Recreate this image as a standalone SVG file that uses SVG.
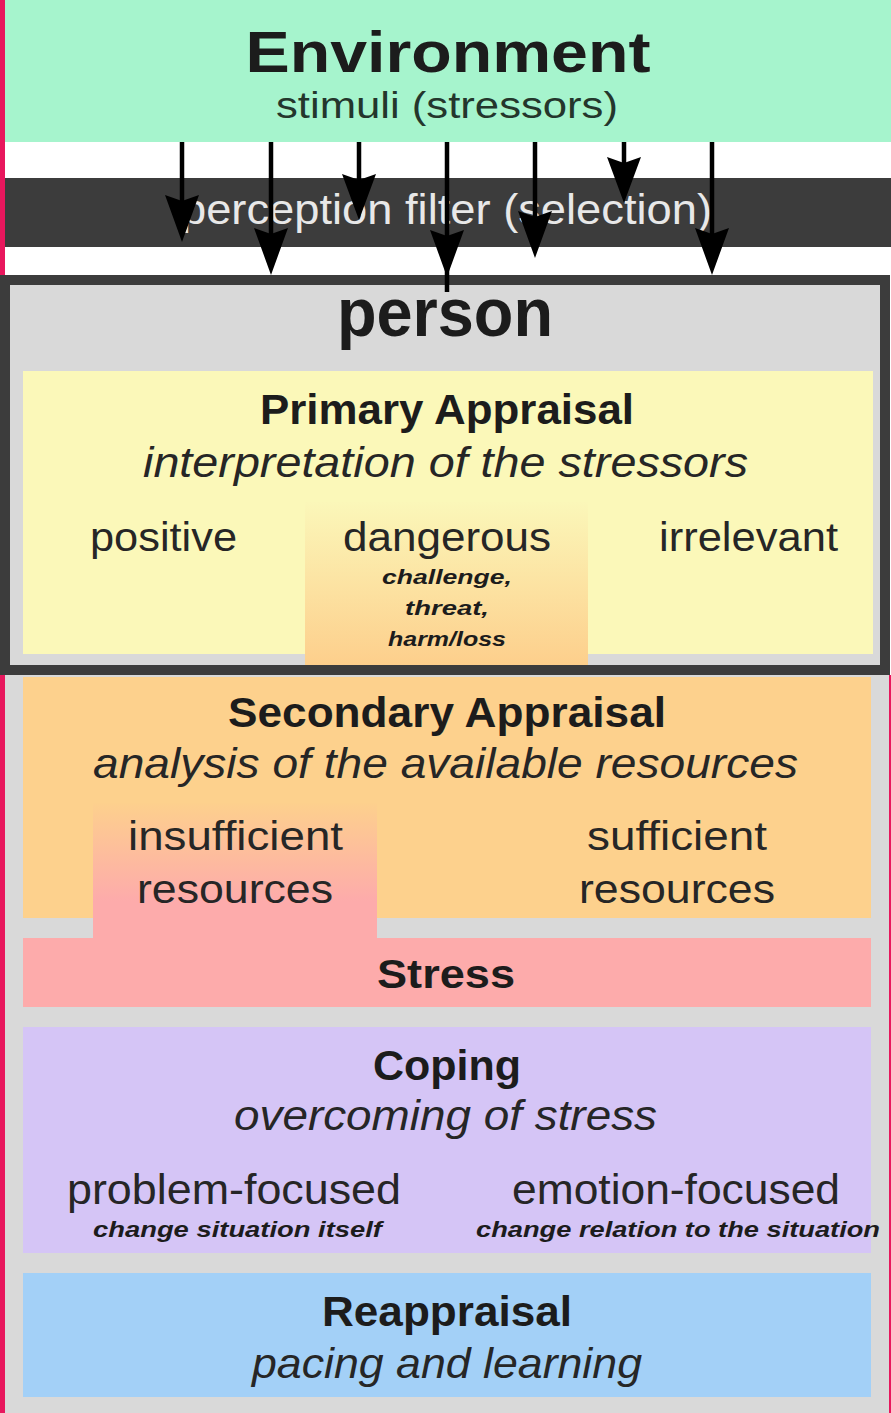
<svg xmlns="http://www.w3.org/2000/svg" width="891" height="1413" viewBox="0 0 891 1413">
<style>
text{font-family:"Liberation Sans",Arial,sans-serif;fill:#1c1c1c;text-anchor:middle}
.b{font-weight:bold}
.i{font-style:italic}
.bi{font-weight:bold;font-style:italic}
.r{fill:#262626}
.conn line{stroke:#000;stroke-width:4.5}
.conn path{fill:#000}
</style>
<defs>
<linearGradient id="gDanger" x1="0" y1="0" x2="0" y2="1">
<stop offset="0" stop-color="#fbf7b9"/>
<stop offset="1" stop-color="#fdcf8c"/>
</linearGradient>
<linearGradient id="gInsuff" x1="0" y1="0" x2="0" y2="1">
<stop offset="0" stop-color="#fdd08d"/>
<stop offset="0.7" stop-color="#fdabab"/>
<stop offset="1" stop-color="#fdabab"/>
</linearGradient>
</defs>
<rect x="0" y="0" width="891" height="1413" fill="#ffffff"/>
<rect x="0" y="675" width="891" height="738" fill="#d9d9d9"/>
<rect x="0" y="0" width="5" height="1413" fill="#e8175d"/>
<rect x="889" y="675" width="2" height="738" fill="#e8175d"/>

<g id="environment">
<rect x="5" y="0" width="886" height="142" fill="#a6f4cd"/>
<text class="b" x="448" y="72" font-size="58" textLength="405" lengthAdjust="spacingAndGlyphs">Environment</text>
<text x="447" y="118" font-size="36" textLength="342" lengthAdjust="spacingAndGlyphs" style="fill:#24362c">stimuli (stressors)</text>
</g>

<g id="perception-filter">
<rect x="5" y="178" width="886" height="69" fill="#3c3c3c"/>
<text x="446.5" y="224" font-size="42" textLength="531" lengthAdjust="spacingAndGlyphs" style="fill:#e8e8e8">perception filter (selection)</text>
</g>

<g id="person">
<rect x="5" y="280" width="880" height="390" fill="#d9d9d9" stroke="#3c3c3c" stroke-width="10"/>
<text class="b" x="445" y="336" font-size="68" textLength="216" lengthAdjust="spacingAndGlyphs">person</text>
</g>

<g id="primary-appraisal">
<rect x="23" y="371" width="850" height="283" fill="#fbf8b9"/>
<rect x="305" y="502" width="283" height="163" fill="url(#gDanger)"/>
<text class="b" x="447" y="424" font-size="42" textLength="374" lengthAdjust="spacingAndGlyphs">Primary Appraisal</text>
<text class="i r" x="445.5" y="477" font-size="42" textLength="605" lengthAdjust="spacingAndGlyphs">interpretation of the stressors</text>
<text class="r" x="163.5" y="551" font-size="40" textLength="147" lengthAdjust="spacingAndGlyphs">positive</text>
<text class="r" x="447" y="551" font-size="40" textLength="208" lengthAdjust="spacingAndGlyphs">dangerous</text>
<text class="r" x="748.5" y="551" font-size="40" textLength="179" lengthAdjust="spacingAndGlyphs">irrelevant</text>
<text class="bi" x="447" y="584" font-size="21" textLength="130" lengthAdjust="spacingAndGlyphs">challenge,</text>
<text class="bi" x="447" y="615" font-size="21" textLength="84" lengthAdjust="spacingAndGlyphs">threat,</text>
<text class="bi" x="447" y="646" font-size="21" textLength="118" lengthAdjust="spacingAndGlyphs">harm/loss</text>
</g>

<g id="secondary-appraisal">
<rect x="23" y="677" width="848" height="241" fill="#fdd18d"/>
<rect x="93" y="803" width="284" height="140" fill="url(#gInsuff)"/>
<text class="b" x="447" y="727" font-size="42" textLength="438" lengthAdjust="spacingAndGlyphs">Secondary Appraisal</text>
<text class="i r" x="445.5" y="778" font-size="42" textLength="705" lengthAdjust="spacingAndGlyphs">analysis of the available resources</text>
<text class="r" x="235.5" y="850" font-size="40" textLength="215" lengthAdjust="spacingAndGlyphs">insufficient</text>
<text class="r" x="235" y="903" font-size="40" textLength="196" lengthAdjust="spacingAndGlyphs">resources</text>
<text class="r" x="677" y="850" font-size="40" textLength="180" lengthAdjust="spacingAndGlyphs">sufficient</text>
<text class="r" x="677" y="903" font-size="40" textLength="196" lengthAdjust="spacingAndGlyphs">resources</text>
</g>

<g id="stress">
<rect x="23" y="938" width="848" height="69" fill="#fdabab"/>
<text class="b" x="446" y="988" font-size="40" textLength="138" lengthAdjust="spacingAndGlyphs">Stress</text>
</g>

<g id="coping">
<rect x="23" y="1027" width="848" height="226" fill="#d5c5f6"/>
<text class="b" x="447" y="1080" font-size="42" textLength="148" lengthAdjust="spacingAndGlyphs">Coping</text>
<text class="i r" x="445.5" y="1130" font-size="42" textLength="423" lengthAdjust="spacingAndGlyphs">overcoming of stress</text>
<text class="r" x="234" y="1204" font-size="42" textLength="334" lengthAdjust="spacingAndGlyphs">problem-focused</text>
<text class="bi" x="237.5" y="1237" font-size="22" textLength="289" lengthAdjust="spacingAndGlyphs">change situation itself</text>
<text class="r" x="676" y="1204" font-size="42" textLength="328" lengthAdjust="spacingAndGlyphs">emotion-focused</text>
<text class="bi" x="678" y="1237" font-size="22" textLength="404" lengthAdjust="spacingAndGlyphs">change relation to the situation</text>
</g>

<g id="reappraisal">
<rect x="23" y="1273" width="848" height="124" fill="#a3d0f7"/>
<text class="b" x="447" y="1326" font-size="42" textLength="250" lengthAdjust="spacingAndGlyphs">Reappraisal</text>
<text class="i r" x="447" y="1378" font-size="42" textLength="390" lengthAdjust="spacingAndGlyphs">pacing and learning</text>
</g>

<g id="connectors" class="conn">
<line x1="182" y1="142" x2="182" y2="220"/>
<path d="M165,195 L182,242 L199,195 L182,201 Z"/>
<line x1="271" y1="142" x2="271" y2="250"/>
<path d="M254,228 L271,275 L288,228 L271,234 Z"/>
<line x1="359" y1="142" x2="359" y2="200"/>
<path d="M342,174 L359,220 L376,174 L359,180 Z"/>
<line x1="447" y1="142" x2="447" y2="292"/>
<path d="M430,230 L447,277 L464,230 L447,236 Z"/>
<line x1="535" y1="142" x2="535" y2="235"/>
<path d="M518,211 L535,258 L552,211 L535,217 Z"/>
<line x1="624" y1="142" x2="624" y2="180"/>
<path d="M607,157 L624,203 L641,157 L624,163 Z"/>
<line x1="712" y1="142" x2="712" y2="250"/>
<path d="M695,228 L712,275 L729,228 L712,234 Z"/>
</g>
</svg>
